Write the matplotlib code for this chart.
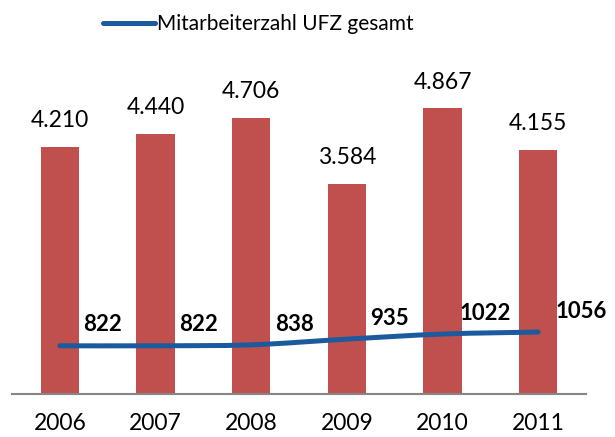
import matplotlib
matplotlib.use('Agg')
import matplotlib.pyplot as plt
from matplotlib.path import Path
from matplotlib.patches import PathPatch
from matplotlib.lines import Line2D

years = ['2006', '2007', '2008', '2009', '2010', '2011']
bar_values = [4210, 4440, 4706, 3584, 4867, 4155]
staff = [822, 822, 838, 935, 1022, 1056]
bar_labels = ['4.210', '4.440', '4.706', '3.584', '4.867', '4.155']
legend_label = 'Mitarbeiterzahl UFZ gesamt'

BAR_COLOR = '#C0504D'
LINE_COLOR = '#1C5A9E'

plt.rcParams['font.family'] = ['Lato', 'DejaVu Sans']

fig = plt.figure(figsize=(6.15, 4.37), dpi=100)
ax = fig.add_axes([12/615, 43/437, 574/615, 352/437])

x = list(range(len(years)))
ax.bar(x, bar_values, width=0.4, color=BAR_COLOR, zorder=2)

# smoothed line (bezier control points derived from neighbouring points)
verts = [(x[0], staff[0])]
codes = [Path.MOVETO]
t = 1/6
for i in range(len(x) - 1):
    p0 = (x[max(i-1, 0)], staff[max(i-1, 0)])
    p1 = (x[i], staff[i])
    p2 = (x[i+1], staff[i+1])
    p3 = (x[min(i+2, len(x)-1)], staff[min(i+2, len(x)-1)])
    c1 = (p1[0] + (p2[0]-p0[0])*t, p1[1] + (p2[1]-p0[1])*t)
    c2 = (p2[0] - (p3[0]-p1[0])*t, p2[1] - (p3[1]-p1[1])*t)
    verts += [c1, c2, p2]
    codes += [Path.CURVE4]*3
ax.add_patch(PathPatch(Path(verts, codes), fill=False, edgecolor=LINE_COLOR,
                       lw=3.6, capstyle='round', zorder=3))

for xi, v, lab in zip(x, bar_values, bar_labels):
    ax.annotate(lab, (xi, v), xytext=(0, 19), textcoords='offset points',
                ha='center', va='center', fontsize=16.5, color='#000000')

for xi, v in zip(x, staff):
    ax.annotate(str(v), (xi, v), xytext=(31, 15), textcoords='offset points',
                ha='center', va='center', fontsize=16, fontweight='bold',
                color='#000000')

ax.set_xlim(-0.5, 5.5)
ax.set_ylim(0, 6000)
ax.set_xticks(x)
ax.set_xticklabels(years, fontsize=16.5)
ax.tick_params(axis='x', length=0, pad=14)
ax.set_yticks([])
for s in ['left', 'right', 'top']:
    ax.spines[s].set_visible(False)
ax.spines['bottom'].set_color('#868686')
ax.spines['bottom'].set_linewidth(1.5)

handle = Line2D([], [], color=LINE_COLOR, lw=3.6, solid_capstyle='round')
fig.legend([handle], [legend_label], loc='center', bbox_to_anchor=(258/615, 1 - 24/437),
           frameon=False, fontsize=15, handlelength=2.5, handletextpad=0.1)

fig.savefig('out.png', dpi=100)
